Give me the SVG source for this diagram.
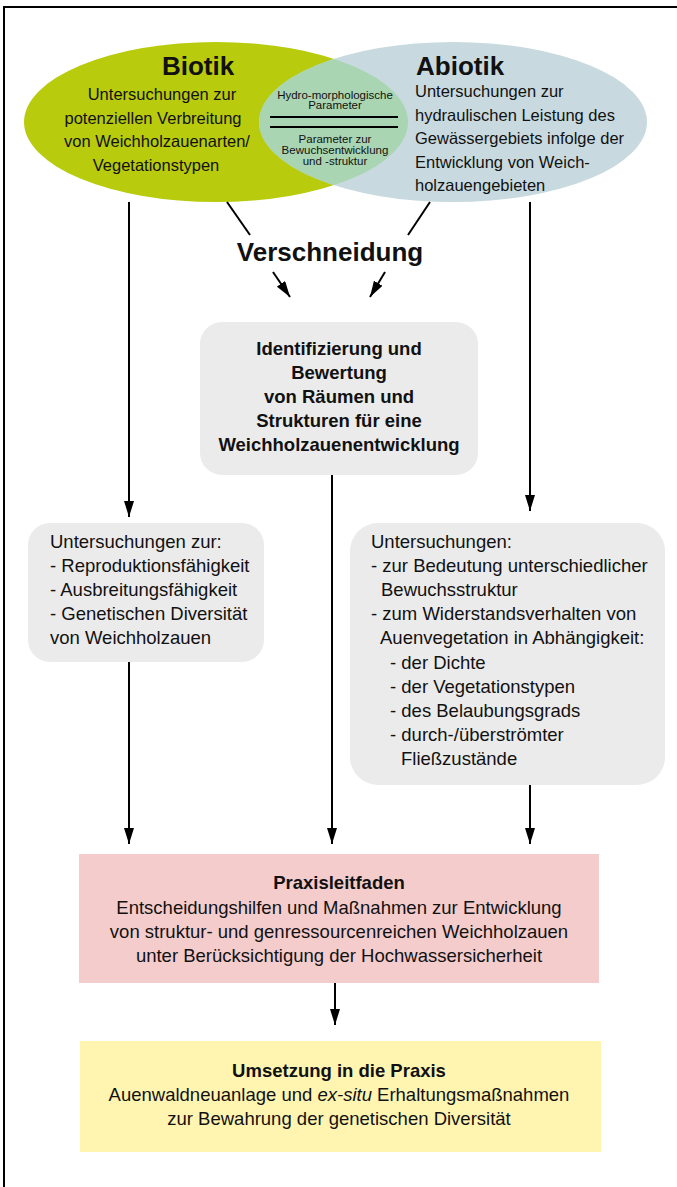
<svg xmlns="http://www.w3.org/2000/svg" width="677" height="1187" viewBox="0 0 677 1187">
<style>
text{font-family:"Liberation Sans",Arial,sans-serif;fill:#111}
.t16{font-size:16.5px}
.t18{font-size:18.5px}
.b18{font-size:18.5px;font-weight:bold}
.big{font-size:26px;font-weight:bold}
.sm{font-size:11.5px}
.c{text-anchor:middle}
.box{fill:#ebebeb}
.conn line{stroke:#000;stroke-width:2;fill:none}
</style>
<defs>
<marker id="ah" viewBox="0 0 16 10" refX="16" refY="5" markerWidth="16" markerHeight="10" orient="auto" markerUnits="userSpaceOnUse">
<path d="M0,0 L16,5 L0,10 z" fill="#000"/>
</marker>
<clipPath id="clipB"><ellipse cx="216" cy="122" rx="192" ry="80"/></clipPath>
</defs>
<rect x="4" y="7" width="720" height="1220" fill="#fff" stroke="#000" stroke-width="2"/>

<g id="biotik">
<ellipse cx="216" cy="122" rx="192" ry="80" fill="#b8cb0c"/>
</g>
<g id="abiotik">
<ellipse cx="453" cy="122" rx="194" ry="80" fill="#c8dadf"/>
</g>
<g id="lens">
<ellipse cx="453" cy="122" rx="194" ry="80" fill="#a9d5b2" clip-path="url(#clipB)"/>
<text class="sm c" x="335" y="99">Hydro-morphologische</text>
<text class="sm c" x="335" y="109">Parameter</text>
<line x1="270" y1="117" x2="398" y2="117" stroke="#000" stroke-width="2"/>
<line x1="270" y1="127" x2="398" y2="127" stroke="#000" stroke-width="2"/>
<text class="sm c" x="335" y="143">Parameter zur</text>
<text class="sm c" x="335" y="154">Bewuchsentwicklung</text>
<text class="sm c" x="335" y="165">und -struktur</text>
</g>
<g id="biotik-text">
<text class="big c" x="198" y="75">Biotik</text>
<text class="t16 c" x="162" y="100">Untersuchungen zur</text>
<text class="t16 c" x="153" y="124">potenziellen Verbreitung</text>
<text class="t16 c" x="157" y="147">von Weichholzauenarten/</text>
<text class="t16 c" x="156" y="171">Vegetationstypen</text>
</g>
<g id="abiotik-text">
<text class="big" x="416" y="75">Abiotik</text>
<text class="t16" x="415" y="97">Untersuchungen zur</text>
<text class="t16" x="415" y="121">hydraulischen Leistung des</text>
<text class="t16" x="415" y="144">Gewässergebiets infolge der</text>
<text class="t16" x="415" y="168">Entwicklung von Weich-</text>
<text class="t16" x="415" y="191">holzauengebieten</text>
</g>

<g id="verschneidung">
<text class="big c" x="330" y="261">Verschneidung</text>
</g>

<g id="identifizierung">
<rect class="box" x="200" y="322" width="278" height="153" rx="22"/>
<text class="b18 c" x="339" y="355">Identifizierung und</text>
<text class="b18 c" x="339" y="379">Bewertung</text>
<text class="b18 c" x="339" y="403">von Räumen und</text>
<text class="b18 c" x="339" y="427">Strukturen für eine</text>
<text class="b18 c" x="339" y="451">Weichholzauenentwicklung</text>
</g>

<g id="untersuchungen-links">
<rect class="box" x="28" y="523" width="236" height="139" rx="22"/>
<text class="t18" x="50" y="548">Untersuchungen zur:</text>
<text class="t18" x="50" y="572">- Reproduktionsfähigkeit</text>
<text class="t18" x="50" y="596">- Ausbreitungsfähigkeit</text>
<text class="t18" x="50" y="620">- Genetischen Diversität</text>
<text class="t18" x="50" y="644">von Weichholzauen</text>
</g>

<g id="untersuchungen-rechts">
<rect class="box" x="350" y="523" width="315" height="262" rx="28"/>
<text class="t18" x="371" y="548">Untersuchungen:</text>
<text class="t18" x="371" y="572">- zur Bedeutung unterschiedlicher</text>
<text class="t18" x="381" y="596">Bewuchsstruktur</text>
<text class="t18" x="371" y="620">- zum Widerstandsverhalten von</text>
<text class="t18" x="380" y="644">Auenvegetation in Abhängigkeit:</text>
<text class="t18" x="390" y="669">- der Dichte</text>
<text class="t18" x="390" y="693">- der Vegetationstypen</text>
<text class="t18" x="390" y="717">- des Belaubungsgrads</text>
<text class="t18" x="390" y="741">- durch-/überströmter</text>
<text class="t18" x="401" y="765">Fließzustände</text>
</g>

<g id="praxisleitfaden">
<rect x="79" y="854" width="520" height="129" fill="#f4cccc"/>
<text class="b18 c" x="339" y="889">Praxisleitfaden</text>
<text class="t18 c" x="339" y="914">Entscheidungshilfen und Maßnahmen zur Entwicklung</text>
<text class="t18 c" x="339" y="938">von struktur- und genressourcenreichen Weichholzauen</text>
<text class="t18 c" x="339" y="962">unter Berücksichtigung der Hochwassersicherheit</text>
</g>

<g id="umsetzung">
<rect x="80" y="1041" width="521" height="111" fill="#fff5b1"/>
<text class="b18 c" x="339" y="1077">Umsetzung in die Praxis</text>
<text class="t18 c" x="339" y="1101">Auenwaldneuanlage und <tspan font-style="italic">ex-situ</tspan> Erhaltungsmaßnahmen</text>
<text class="t18 c" x="339" y="1125">zur Bewahrung der genetischen Diversität</text>
</g>

<g class="conn" id="connectors">
<line x1="129" y1="202" x2="129" y2="517" marker-end="url(#ah)"/>
<line x1="530" y1="202" x2="530" y2="511" marker-end="url(#ah)"/>
<line x1="227" y1="202" x2="250" y2="235"/>
<line x1="430" y1="202" x2="408" y2="235"/>
<line x1="273" y1="272" x2="290" y2="297" marker-end="url(#ah)"/>
<line x1="385" y1="272" x2="370" y2="297" marker-end="url(#ah)"/>
<line x1="129" y1="662" x2="129" y2="844" marker-end="url(#ah)"/>
<line x1="332" y1="475" x2="332" y2="844" marker-end="url(#ah)"/>
<line x1="530" y1="785" x2="530" y2="844" marker-end="url(#ah)"/>
<line x1="335" y1="983" x2="335" y2="1025" marker-end="url(#ah)"/>
</g>
</svg>
